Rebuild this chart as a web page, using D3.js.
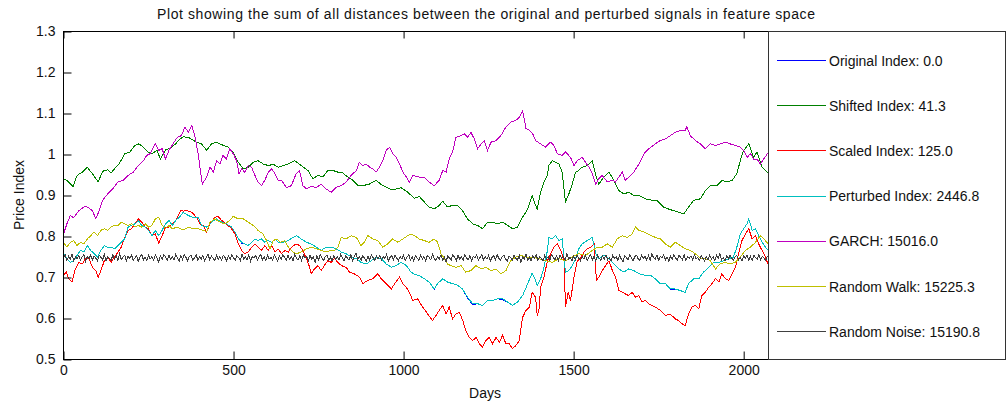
<!DOCTYPE html>
<html><head><meta charset="utf-8">
<script src="https://cdn.jsdelivr.net/npm/d3@7"></script>
<style>
body{margin:0;background:#fff}
svg text{font-family:"Liberation Sans",Arial,Helvetica,sans-serif;fill:#111}
</style>
</head><body>
<svg id="chart" width="1007" height="407"></svg>
<script>
// ---------- data (day, price index) ----------
const titleText = "Plot showing the sum of all distances between the original and perturbed signals in feature space";
const xLabel = "Days";
const yLabel = "Price Index";
const xTicks = [0, 500, 1000, 1500, 2000];
const yTicks = [0.5, 0.6, 0.7, 0.8, 0.9, 1.0, 1.1, 1.2, 1.3];
const yTickLabels = ["0.5","0.6","0.7","0.8","0.9","1","1.1","1.2","1.3"];
const legendLabels = ["Original Index: 0.0","Shifted Index: 41.3","Scaled Index: 125.0","Perturbed Index: 2446.8","GARCH: 15016.0","Random Walk: 15225.3","Random Noise: 15190.8"];
const seriesColors = ["#0000ff","#008000","#ff0000","#00bfbf","#bf00bf","#bfbf00","#404040"];

const originalIndex = [[0,0.758],[10,0.746],[20,0.737],[30,0.741],[40,0.754],[50,0.766],[60,0.762],[70,0.778],[80,0.766],[90,0.758],[100,0.750],[110,0.766],[120,0.778],[130,0.774],[140,0.774],[150,0.770],[160,0.778],[170,0.786],[180,0.794],[190,0.823],[200,0.827],[210,0.831],[220,0.839],[230,0.827],[240,0.823],[250,0.815],[260,0.802],[270,0.815],[280,0.802],[290,0.815],[300,0.831],[310,0.839],[320,0.827],[330,0.839],[345,0.851],[352,0.859],[367,0.851],[381,0.847],[396,0.847],[406,0.827],[421,0.823],[431,0.831],[441,0.839],[450,0.843],[465,0.835],[479,0.831],[494,0.823],[504,0.811],[514,0.794],[524,0.784],[533,0.782],[543,0.778],[553,0.786],[563,0.794],[572,0.790],[582,0.794],[592,0.786],[602,0.790],[612,0.786],[622,0.794],[631,0.786],[646,0.786],[661,0.790],[675,0.798],[685,0.802],[699,0.794],[714,0.786],[728,0.782],[743,0.774],[758,0.766],[772,0.774],[787,0.774],[802,0.770],[817,0.762],[831,0.758],[846,0.750],[861,0.746],[875,0.737],[890,0.733],[905,0.741],[919,0.750],[934,0.746],[949,0.733],[964,0.725],[978,0.729],[993,0.737],[1008,0.729],[1022,0.713],[1035,0.707],[1046,0.705],[1061,0.697],[1075,0.689],[1090,0.671],[1100,0.685],[1115,0.697],[1129,0.689],[1144,0.685],[1159,0.681],[1173,0.672],[1188,0.650],[1203,0.634],[1218,0.636],[1232,0.632],[1247,0.644],[1262,0.644],[1276,0.648],[1291,0.646],[1306,0.640],[1320,0.632],[1335,0.640],[1350,0.656],[1365,0.685],[1378,0.711],[1388,0.693],[1393,0.681],[1403,0.697],[1413,0.725],[1423,0.766],[1427,0.798],[1437,0.794],[1447,0.802],[1457,0.790],[1466,0.794],[1476,0.713],[1486,0.717],[1496,0.729],[1506,0.746],[1515,0.770],[1525,0.782],[1540,0.790],[1555,0.798],[1565,0.758],[1574,0.746],[1589,0.754],[1604,0.746],[1618,0.733],[1633,0.721],[1648,0.713],[1662,0.721],[1677,0.717],[1692,0.709],[1711,0.705],[1727,0.705],[1740,0.697],[1755,0.685],[1770,0.685],[1784,0.671],[1799,0.672],[1814,0.668],[1828,0.664],[1838,0.685],[1853,0.697],[1868,0.697],[1882,0.713],[1897,0.725],[1912,0.737],[1927,0.737],[1941,0.741],[1956,0.746],[1970,0.750],[1980,0.774],[1990,0.806],[2000,0.819],[2010,0.831],[2015,0.843],[2025,0.815],[2035,0.819],[2044,0.802],[2054,0.786],[2064,0.774],[2073,0.766]];

const shiftedIndex = [[0,0.941],[10,0.937],[28,0.922],[40,0.949],[55,0.957],[70,0.969],[85,0.953],[102,0.933],[115,0.959],[130,0.963],[140,0.955],[150,0.965],[165,0.979],[180,1.002],[195,1.006],[210,1.022],[222,1.026],[235,1.018],[248,1.006],[260,1.002],[275,1.010],[285,0.989],[300,1.011],[315,1.016],[330,1.026],[340,1.036],[352,1.043],[367,1.042],[391,1.030],[406,1.026],[421,1.010],[435,1.026],[450,1.030],[465,1.024],[484,1.018],[499,1.006],[514,0.981],[529,0.965],[543,0.969],[558,0.981],[572,0.985],[587,0.977],[602,0.973],[617,0.976],[631,0.969],[646,0.973],[661,0.977],[680,0.985],[699,0.973],[719,0.961],[733,0.941],[748,0.949],[763,0.945],[777,0.961],[792,0.961],[807,0.957],[821,0.955],[836,0.945],[851,0.937],[866,0.924],[880,0.924],[900,0.928],[919,0.937],[934,0.927],[949,0.920],[964,0.914],[978,0.916],[993,0.919],[1012,0.908],[1032,0.893],[1046,0.898],[1061,0.884],[1075,0.872],[1090,0.867],[1105,0.876],[1115,0.886],[1129,0.872],[1144,0.876],[1159,0.876],[1173,0.863],[1188,0.843],[1203,0.831],[1218,0.827],[1232,0.819],[1247,0.835],[1262,0.835],[1276,0.831],[1291,0.835],[1306,0.827],[1320,0.819],[1335,0.823],[1350,0.847],[1365,0.867],[1378,0.900],[1388,0.876],[1393,0.867],[1403,0.908],[1413,0.933],[1423,0.949],[1427,0.973],[1437,0.985],[1447,0.981],[1457,0.977],[1466,0.957],[1476,0.884],[1486,0.904],[1496,0.928],[1506,0.957],[1515,0.961],[1525,0.969],[1540,0.973],[1555,0.985],[1565,0.949],[1574,0.928],[1589,0.945],[1604,0.957],[1618,0.937],[1633,0.912],[1648,0.904],[1662,0.908],[1677,0.900],[1692,0.900],[1711,0.892],[1727,0.889],[1745,0.888],[1764,0.872],[1779,0.867],[1794,0.863],[1809,0.859],[1824,0.855],[1838,0.872],[1853,0.888],[1873,0.892],[1887,0.912],[1902,0.924],[1922,0.924],[1936,0.937],[1951,0.933],[1966,0.937],[1980,0.953],[1990,0.985],[2000,1.010],[2015,1.026],[2029,0.993],[2039,1.006],[2054,0.969],[2073,0.953]];

const scaledIndex = [[0,0.705],[8,0.713],[15,0.697],[25,0.689],[35,0.721],[45,0.737],[55,0.733],[65,0.746],[75,0.746],[85,0.725],[95,0.717],[102,0.701],[110,0.717],[120,0.741],[130,0.750],[140,0.737],[150,0.750],[160,0.762],[170,0.774],[180,0.798],[190,0.815],[200,0.819],[210,0.831],[220,0.843],[230,0.835],[240,0.823],[250,0.819],[260,0.802],[270,0.806],[280,0.784],[290,0.802],[300,0.823],[310,0.823],[320,0.831],[330,0.839],[345,0.863],[352,0.862],[362,0.863],[377,0.859],[391,0.847],[401,0.831],[411,0.827],[421,0.811],[431,0.831],[445,0.847],[455,0.849],[465,0.839],[479,0.831],[494,0.819],[504,0.806],[514,0.782],[524,0.766],[533,0.758],[543,0.762],[553,0.774],[563,0.782],[572,0.774],[582,0.766],[592,0.778],[602,0.766],[612,0.778],[622,0.762],[631,0.770],[641,0.758],[651,0.766],[661,0.762],[671,0.774],[684,0.782],[694,0.778],[704,0.766],[714,0.746],[724,0.725],[728,0.709],[738,0.721],[748,0.729],[758,0.717],[767,0.729],[777,0.741],[787,0.737],[797,0.746],[807,0.737],[817,0.729],[831,0.725],[841,0.713],[855,0.709],[870,0.701],[880,0.685],[895,0.693],[910,0.697],[924,0.709],[934,0.697],[949,0.685],[964,0.672],[974,0.685],[988,0.701],[998,0.685],[1008,0.676],[1017,0.664],[1027,0.644],[1041,0.648],[1056,0.628],[1071,0.611],[1085,0.595],[1095,0.607],[1105,0.620],[1115,0.632],[1125,0.611],[1134,0.628],[1144,0.599],[1154,0.611],[1164,0.615],[1174,0.595],[1183,0.571],[1193,0.554],[1203,0.546],[1213,0.554],[1223,0.538],[1232,0.530],[1242,0.546],[1252,0.554],[1262,0.538],[1272,0.554],[1282,0.542],[1291,0.559],[1301,0.538],[1311,0.538],[1320,0.526],[1330,0.534],[1340,0.546],[1350,0.603],[1360,0.620],[1370,0.628],[1378,0.664],[1388,0.652],[1393,0.607],[1398,0.620],[1403,0.676],[1413,0.701],[1423,0.741],[1433,0.758],[1442,0.774],[1452,0.782],[1462,0.766],[1472,0.741],[1476,0.628],[1484,0.664],[1491,0.644],[1501,0.701],[1511,0.741],[1520,0.746],[1530,0.762],[1540,0.770],[1550,0.774],[1560,0.782],[1567,0.693],[1574,0.701],[1584,0.717],[1594,0.729],[1604,0.741],[1614,0.717],[1623,0.701],[1633,0.668],[1643,0.664],[1652,0.660],[1662,0.656],[1672,0.664],[1682,0.652],[1692,0.656],[1701,0.640],[1711,0.644],[1721,0.636],[1740,0.628],[1755,0.620],[1770,0.607],[1784,0.611],[1799,0.599],[1809,0.595],[1819,0.587],[1828,0.583],[1838,0.611],[1848,0.628],[1858,0.632],[1868,0.624],[1877,0.656],[1887,0.664],[1897,0.676],[1907,0.685],[1917,0.697],[1927,0.689],[1936,0.709],[1946,0.697],[1956,0.693],[1966,0.709],[1976,0.725],[1985,0.758],[1995,0.790],[2005,0.806],[2015,0.819],[2025,0.794],[2035,0.802],[2044,0.782],[2054,0.766],[2064,0.750],[2073,0.729]];

const perturbedIndex = [[0,0.758],[10,0.746],[20,0.737],[30,0.741],[40,0.754],[50,0.766],[60,0.762],[70,0.778],[80,0.766],[90,0.758],[100,0.750],[110,0.766],[120,0.778],[130,0.774],[140,0.774],[150,0.770],[160,0.778],[170,0.786],[180,0.794],[190,0.823],[200,0.827],[210,0.831],[220,0.839],[230,0.827],[240,0.823],[250,0.815],[260,0.802],[270,0.815],[280,0.802],[290,0.815],[300,0.831],[310,0.839],[320,0.827],[330,0.839],[345,0.851],[352,0.859],[367,0.851],[381,0.847],[396,0.847],[406,0.827],[421,0.823],[431,0.831],[441,0.839],[450,0.843],[465,0.835],[479,0.831],[494,0.823],[504,0.811],[514,0.794],[524,0.786],[533,0.782],[543,0.778],[553,0.786],[563,0.794],[572,0.790],[582,0.794],[592,0.786],[602,0.790],[612,0.786],[622,0.794],[631,0.786],[646,0.786],[661,0.790],[675,0.798],[685,0.802],[699,0.794],[714,0.786],[728,0.782],[743,0.774],[758,0.766],[772,0.774],[787,0.774],[802,0.770],[817,0.762],[831,0.758],[846,0.750],[861,0.746],[875,0.737],[890,0.733],[905,0.741],[919,0.750],[934,0.746],[949,0.733],[964,0.725],[978,0.729],[993,0.737],[1008,0.729],[1022,0.713],[1035,0.707],[1046,0.705],[1061,0.697],[1075,0.689],[1090,0.672],[1100,0.685],[1115,0.697],[1129,0.689],[1144,0.685],[1159,0.681],[1173,0.672],[1188,0.652],[1203,0.636],[1218,0.636],[1232,0.632],[1247,0.644],[1262,0.644],[1276,0.648],[1291,0.648],[1306,0.640],[1320,0.632],[1335,0.640],[1350,0.656],[1365,0.685],[1378,0.711],[1388,0.693],[1393,0.681],[1403,0.697],[1413,0.725],[1423,0.766],[1427,0.798],[1437,0.794],[1447,0.802],[1457,0.790],[1466,0.794],[1476,0.713],[1486,0.717],[1496,0.729],[1506,0.746],[1515,0.770],[1525,0.782],[1540,0.790],[1555,0.798],[1565,0.758],[1574,0.746],[1589,0.754],[1604,0.746],[1618,0.733],[1633,0.721],[1648,0.713],[1662,0.721],[1677,0.717],[1692,0.709],[1711,0.705],[1727,0.705],[1740,0.697],[1755,0.685],[1770,0.685],[1784,0.672],[1799,0.672],[1814,0.668],[1828,0.664],[1838,0.685],[1853,0.697],[1868,0.697],[1882,0.713],[1897,0.725],[1912,0.737],[1927,0.737],[1941,0.741],[1956,0.746],[1970,0.750],[1980,0.774],[1990,0.806],[2000,0.819],[2010,0.831],[2015,0.843],[2025,0.815],[2035,0.819],[2044,0.802],[2054,0.786],[2064,0.774],[2073,0.766]];

const garch = [[0,0.806],[10,0.831],[20,0.851],[30,0.846],[45,0.863],[60,0.872],[70,0.872],[85,0.863],[95,0.843],[105,0.863],[115,0.888],[130,0.904],[145,0.916],[160,0.933],[175,0.937],[190,0.949],[205,0.957],[220,0.973],[235,0.985],[245,0.998],[255,1.002],[270,1.026],[280,1.010],[290,1.014],[300,0.989],[310,1.010],[325,1.030],[335,1.042],[347,1.046],[357,1.067],[367,1.054],[377,1.071],[386,1.046],[396,1.002],[401,0.969],[408,0.928],[421,0.945],[431,0.969],[441,0.957],[450,0.985],[460,0.977],[469,0.998],[479,0.989],[489,1.014],[499,1.002],[509,0.985],[516,0.953],[524,0.965],[533,0.957],[543,0.973],[553,0.969],[563,0.949],[572,0.933],[582,0.924],[592,0.937],[602,0.957],[612,0.965],[622,0.953],[631,0.937],[641,0.937],[656,0.919],[670,0.924],[684,0.953],[694,0.961],[704,0.924],[714,0.916],[728,0.922],[743,0.920],[758,0.927],[772,0.916],[787,0.908],[802,0.920],[817,0.924],[831,0.933],[846,0.949],[861,0.961],[870,0.981],[880,0.973],[890,0.977],[900,0.969],[910,0.965],[919,0.957],[929,0.969],[939,0.985],[949,1.010],[959,1.018],[968,1.002],[978,0.993],[988,0.977],[998,0.957],[1008,0.945],[1017,0.933],[1027,0.949],[1046,0.945],[1061,0.945],[1075,0.933],[1090,0.924],[1105,0.937],[1115,0.961],[1125,0.957],[1134,0.989],[1144,1.006],[1154,1.042],[1169,1.046],[1179,1.050],[1188,1.042],[1198,1.054],[1208,1.038],[1218,1.014],[1228,1.026],[1237,1.034],[1247,1.010],[1257,1.030],[1272,1.034],[1286,1.046],[1301,1.067],[1315,1.079],[1330,1.083],[1340,1.091],[1350,1.107],[1360,1.063],[1370,1.059],[1380,1.050],[1388,1.034],[1403,1.026],[1417,1.018],[1432,1.030],[1442,1.022],[1452,1.002],[1466,0.998],[1476,1.006],[1491,0.993],[1501,0.973],[1511,0.985],[1525,0.993],[1535,0.981],[1545,0.969],[1555,0.953],[1565,0.928],[1574,0.941],[1584,0.949],[1599,0.933],[1614,0.937],[1623,0.933],[1633,0.945],[1643,0.957],[1652,0.937],[1662,0.945],[1677,0.957],[1692,0.977],[1707,1.002],[1721,1.014],[1740,1.026],[1755,1.034],[1770,1.038],[1784,1.046],[1799,1.054],[1814,1.059],[1828,1.059],[1833,1.068],[1843,1.046],[1858,1.034],[1873,1.026],[1887,1.014],[1902,1.026],[1917,1.022],[1931,1.026],[1946,1.030],[1960,1.026],[1975,1.022],[1990,1.018],[2000,1.010],[2010,0.993],[2020,1.002],[2029,0.989],[2039,0.989],[2049,0.977],[2059,0.989],[2073,1.006]];

const randomWalk = [[0,0.786],[10,0.774],[20,0.786],[30,0.790],[40,0.778],[50,0.786],[60,0.782],[70,0.794],[80,0.802],[90,0.811],[100,0.802],[110,0.815],[120,0.819],[130,0.815],[140,0.823],[150,0.827],[160,0.827],[170,0.835],[180,0.831],[190,0.827],[200,0.831],[210,0.823],[220,0.827],[230,0.823],[240,0.831],[250,0.823],[260,0.827],[270,0.843],[280,0.847],[290,0.827],[300,0.819],[310,0.827],[320,0.819],[335,0.823],[352,0.816],[367,0.823],[381,0.819],[396,0.819],[411,0.815],[421,0.811],[431,0.835],[445,0.843],[460,0.835],[474,0.831],[489,0.839],[499,0.849],[514,0.843],[529,0.843],[543,0.835],[558,0.827],[572,0.815],[587,0.806],[597,0.790],[607,0.770],[617,0.790],[627,0.794],[637,0.786],[651,0.790],[661,0.774],[675,0.762],[685,0.758],[699,0.762],[714,0.770],[728,0.774],[743,0.770],[758,0.766],[772,0.762],[787,0.766],[797,0.766],[807,0.774],[817,0.798],[831,0.794],[846,0.802],[861,0.798],[875,0.778],[885,0.786],[895,0.802],[910,0.794],[924,0.790],[939,0.774],[953,0.782],[968,0.794],[983,0.786],[998,0.794],[1012,0.802],[1022,0.806],[1032,0.802],[1046,0.794],[1061,0.790],[1075,0.786],[1090,0.794],[1100,0.786],[1110,0.758],[1120,0.746],[1129,0.733],[1139,0.729],[1154,0.725],[1169,0.729],[1183,0.713],[1198,0.717],[1213,0.729],[1228,0.721],[1242,0.725],[1257,0.717],[1272,0.721],[1286,0.709],[1301,0.717],[1315,0.741],[1330,0.750],[1345,0.754],[1360,0.750],[1378,0.750],[1398,0.746],[1417,0.741],[1437,0.737],[1457,0.746],[1476,0.741],[1496,0.750],[1515,0.758],[1535,0.754],[1555,0.766],[1569,0.774],[1584,0.774],[1599,0.782],[1614,0.774],[1628,0.794],[1643,0.802],[1658,0.798],[1672,0.806],[1682,0.823],[1692,0.815],[1707,0.811],[1723,0.804],[1740,0.798],[1755,0.794],[1770,0.782],[1784,0.774],[1799,0.786],[1814,0.778],[1828,0.770],[1843,0.766],[1858,0.758],[1873,0.746],[1887,0.746],[1902,0.741],[1917,0.721],[1931,0.733],[1946,0.737],[1960,0.733],[1975,0.737],[1990,0.750],[2005,0.766],[2020,0.774],[2035,0.786],[2049,0.802],[2059,0.794],[2073,0.782]];

// random noise: one reading every 5 days starting at day 0
const noiseStepDays = 5;
const randomNoise = [
0.748,0.755,0.741,0.752,0.744,0.757,0.740,0.751,0.746,0.754,0.742,0.750,0.756,0.739,0.751,0.745,0.755,0.743,0.752,0.747,
0.741,0.754,0.749,0.743,0.756,0.740,0.751,0.747,0.742,0.755,0.745,0.753,0.741,0.758,0.744,0.750,0.754,0.740,0.752,0.746,
0.755,0.742,0.748,0.753,0.739,0.751,0.756,0.743,0.750,0.741,0.754,0.745,0.751,0.742,0.755,0.747,0.738,0.753,0.744,0.756,
0.750,0.741,0.754,0.745,0.751,0.742,0.757,0.747,0.740,0.753,0.744,0.755,0.749,0.741,0.752,0.754,0.743,0.748,0.756,0.742,
0.751,0.745,0.754,0.740,0.750,0.757,0.743,0.752,0.747,0.741,0.755,0.745,0.751,0.742,0.754,0.749,0.740,0.753,0.744,0.756,
0.748,0.742,0.753,0.749,0.741,0.758,0.745,0.751,0.743,0.755,0.739,0.751,0.747,0.754,0.742,0.750,0.756,0.743,0.751,0.741,
0.754,0.745,0.749,0.742,0.755,0.747,0.740,0.753,0.744,0.756,0.749,0.742,0.754,0.745,0.751,0.741,0.757,0.747,0.743,0.753,
0.742,0.755,0.747,0.751,0.741,0.754,0.745,0.750,0.737,0.753,0.743,0.756,0.747,0.742,0.751,0.755,0.743,0.749,0.741,0.754,
0.745,0.751,0.742,0.756,0.749,0.740,0.753,0.747,0.743,0.755,0.741,0.751,0.760,0.743,0.750,0.742,0.754,0.747,0.740,0.752,
0.743,0.755,0.749,0.741,0.753,0.745,0.754,0.742,0.751,0.747,0.756,0.740,0.749,0.753,0.743,0.755,0.747,0.741,0.751,0.745,
0.754,0.742,0.749,0.756,0.743,0.751,0.740,0.753,0.747,0.742,0.755,0.745,0.751,0.741,0.754,0.749,0.743,0.757,0.747,0.741,
0.751,0.745,0.755,0.742,0.749,0.738,0.753,0.747,0.743,0.756,0.749,0.741,0.754,0.745,0.751,0.742,0.755,0.747,0.743,0.753,
0.741,0.751,0.747,0.755,0.743,0.749,0.757,0.742,0.751,0.745,0.754,0.740,0.749,0.753,0.743,0.756,0.747,0.742,0.751,0.754,
0.745,0.741,0.753,0.749,0.742,0.755,0.747,0.743,0.754,0.737,0.751,0.745,0.756,0.743,0.749,0.741,0.753,0.747,0.755,0.742,
0.751,0.747,0.740,0.754,0.745,0.751,0.742,0.756,0.749,0.743,0.753,0.741,0.755,0.747,0.751,0.742,0.758,0.745,0.749,0.741,
0.753,0.743,0.755,0.747,0.741,0.751,0.745,0.754,0.742,0.749,0.756,0.743,0.751,0.740,0.754,0.747,0.742,0.753,0.745,0.755,
0.743,0.749,0.741,0.754,0.747,0.751,0.742,0.755,0.745,0.738,0.753,0.749,0.743,0.756,0.747,0.741,0.751,0.754,0.745,0.742,
0.755,0.747,0.751,0.743,0.753,0.741,0.757,0.749,0.745,0.754,0.742,0.751,0.747,0.755,0.743,0.749,0.740,0.753,0.745,0.756,
0.747,0.742,0.754,0.749,0.743,0.755,0.741,0.751,0.747,0.753,0.743,0.756,0.745,0.749,0.742,0.754,0.747,0.740,0.751,0.743,
0.755,0.745,0.751,0.742,0.754,0.747,0.758,0.743,0.749,0.741,0.753,0.745,0.755,0.747,0.742,0.751,0.754,0.743,0.749,0.741,
0.753,0.747,0.755,0.743,0.751,0.742,0.754,0.749,0.745,0.756,0.743,0.751,0.747,0.741,0.752];

// ---------- drawing ----------
const svg = d3.select("#chart");
const L = 63.5, R = 768.5, T = 31.5, B = 359.5;
const x = d3.scaleLinear().domain([0, 2073]).range([L, R]);
const y = d3.scaleLinear().domain([0.5, 1.3]).range([B, T]);

svg.append("rect").attr("width",1007).attr("height",407).attr("fill","#fff");

svg.append("defs").append("clipPath").attr("id","plotclip")
  .append("rect").attr("x",L).attr("y",T).attr("width",R-L).attr("height",B-T);

const noiseSeries = randomNoise.map((v,i)=>[i*noiseStepDays, v]);
const allSeries = [originalIndex, shiftedIndex, scaledIndex, perturbedIndex, garch, randomWalk, noiseSeries];

const line = d3.line().x(d=>x(d[0])).y(d=>y(d[1]));
const g = svg.append("g").attr("clip-path","url(#plotclip)");
allSeries.forEach((s,i)=>{
  g.append("path").attr("d", line(s)).attr("fill","none")
    .attr("stroke", seriesColors[i]).attr("stroke-width",1)
    .attr("shape-rendering","crispEdges");
});

// axes
const axB = svg.append("g").attr("transform",`translate(0,${B})`)
  .call(d3.axisBottom(x).tickValues(xTicks).tickFormat(d3.format("d")).tickSizeInner(-8).tickSizeOuter(0).tickPadding(6));
const axT = svg.append("g").attr("transform",`translate(0,${T})`)
  .call(d3.axisTop(x).tickValues(xTicks).tickFormat("").tickSizeInner(-7).tickSizeOuter(0));
const axL = svg.append("g").attr("transform",`translate(${L},0)`)
  .call(d3.axisLeft(y).tickValues(yTicks).tickFormat((d,i)=>yTickLabels[i]).tickSizeInner(-8).tickSizeOuter(0).tickPadding(8));
[axB,axT,axL].forEach(a=>{
  a.selectAll("path.domain").remove();
  a.selectAll("line").attr("stroke","#000");
  a.selectAll("text").attr("font-size","14px").attr("font-family",null).style("fill","#111");
});

// frame
svg.append("rect").attr("x",L).attr("y",T).attr("width",R-L).attr("height",B-T)
  .attr("fill","none").attr("stroke","#000").attr("stroke-width",1);

// legend box
const LX2 = 1005.5;
svg.append("rect").attr("x",R).attr("y",T).attr("width",LX2-R).attr("height",B-T)
  .attr("fill","#fff").attr("stroke","#333").attr("stroke-width",1);
legendLabels.forEach((lab,i)=>{
  const yy = 60.5 + i*45.2;
  svg.append("line").attr("x1",777).attr("x2",826).attr("y1",yy).attr("y2",yy)
    .attr("stroke",seriesColors[i]).attr("stroke-width",1).attr("shape-rendering","crispEdges");
  svg.append("text").attr("x",829).attr("y",yy+5).attr("font-size","14px").text(lab);
});

// title and labels
svg.append("text").attr("x",157).attr("y",19).attr("font-size","14px")
  .attr("textLength",658).attr("lengthAdjust","spacing").text(titleText);
svg.append("text").attr("x",485).attr("y",398).attr("text-anchor","middle").attr("font-size","14px").text(xLabel);
svg.append("text").attr("transform","translate(24,195) rotate(-90)").attr("text-anchor","middle").attr("font-size","14px").text(yLabel);
</script>
</body></html>
